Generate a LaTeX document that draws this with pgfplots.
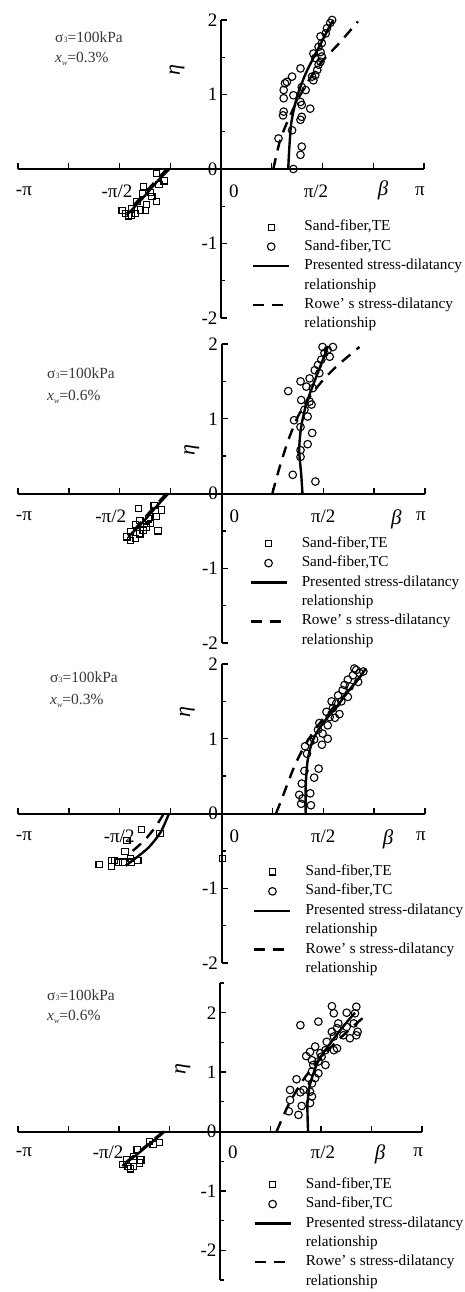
\documentclass[border=0pt]{standalone}
\usepackage{pgfplots}
\pgfplotsset{compat=1.18}
\usepackage{fontspec}
\setmainfont{Liberation Serif}
\newcommand\tlf{\fontsize{19}{19}\selectfont}
\newcommand\annf{\fontsize{15.5}{16}\selectfont}
\pgfplotsset{
  panel/.style={
    scale only axis, axis lines=middle, axis line style={-, line width=2pt, black},
    xmin=-3.14159, xmax=3.14159, enlargelimits=false, clip=false,
    xtick={-3.14159,-2.35619,-1.5708,-0.7854,0,0.7854,1.5708,2.35619,3.14159},
    xticklabels={}, xtick align=inside, ytick align=inside,
    hide obscured x ticks=false, hide obscured y ticks=false,
    major tick length=6pt, minor tick length=4pt,
    every tick/.style={black, line width=1.3pt},
    yticklabel style={font=\tlf},
    legend cell align=left,
    legend style={anchor=north west, draw=none, fill=none, inner sep=0pt, outer sep=0pt,
      font=\fontsize{15.2}{17}\selectfont, row sep=5.7pt,
      nodes={inner sep=0pt, text height=10.5pt, text depth=3.2pt}},
  },
  te/.style={only marks, mark=square, mark size=3.1pt, mark options={line width=1.1pt, black, fill=none}},
  tc/.style={only marks, mark=o, mark size=3.8pt, mark options={line width=1.1pt, black, fill=none}},
  pres/.style={black, line width=2.4pt, no marks, smooth},
  rowe/.style={black, line width=2.4pt, no marks, smooth, dash pattern=on 11pt off 8pt},
  teleg/.style={te, legend image code/.code={\draw[##1] plot coordinates {(18pt,0pt)}; \path (0pt,0pt) (50pt,0pt);}},
  tcleg/.style={tc, legend image code/.code={\draw[##1] plot coordinates {(18pt,0pt)}; \path (0pt,0pt) (50pt,0pt);}},
  presleg/.style={black, line width=2.4pt, legend image code/.code={\draw[##1] (0pt,0pt) -- (36pt,0pt); \path (50pt,0pt);}},
  roweleg/.style={black, line width=2.4pt, dash pattern=on 11pt off 8pt, legend image code/.code={\draw[##1] (0pt,0pt) -- (36pt,0pt); \path (50pt,0pt);}},
}
\newcommand\legendset{%
  \addlegendimage{teleg}\addlegendentry{Sand-fiber,TE}
  \addlegendimage{tcleg}\addlegendentry{Sand-fiber,TC}
  \addlegendimage{presleg}\addlegendentry{Presented stress-dilatancy}
  \addlegendimage{empty legend}\addlegendentry{relationship}
  \addlegendimage{roweleg}\addlegendentry{Rowe' s stress-dilatancy}
  \addlegendimage{empty legend}\addlegendentry{relationship}
}
\newcommand\xlabs[5]{%
  \node[font=\tlf] at (axis cs:-3.05,0) [yshift=#1] {-π};
  \node[font=\tlf] at (axis cs:#2,0) [yshift=#1] {-π/2};
  \node[font=\tlf] at (axis cs:0.2,0) [yshift=#1] {0};
  \node[font=\tlf] at (axis cs:#3,0) [yshift=#1] {π/2};
  \node[font=\tlf] at (axis cs:3.08,0) [yshift=#1] {π};
  \node[font=\fontsize{21}{21}\selectfont\itshape] at (axis cs:#4,#5) {β};
}
\begin{document}
\begin{tikzpicture}
\useasboundingbox (0,0) rectangle (465pt,-1292pt);
% ---------- panel 1
\node[anchor=base west, font=\annf, text=black!78, inner sep=0pt] at (55pt,-43pt) {σ{\fontsize{8}{8}\selectfont 3}=100kPa};
\node[anchor=base west, font=\annf, text=black!78, inner sep=0pt] at (55pt,-63pt) {\textit{x}{\fontsize{8}{8}\selectfont\raisebox{-3pt}{\textit{w}}}=0.3\%};
\begin{axis}[panel, at={(18pt,-318pt)}, anchor=south west, width=406pt, height=298pt,
  ymin=-2, ymax=2, ytick={-2,-1,0,1,2}, yticklabels={-2,-1,0,1,2},
  minor ytick={-1.5,-0.5,0.5,1.5},
  legend style={at={(axis cs:0.48,-0.69)}}]
\addplot[te, forget plot] coordinates {(-1.00,-0.06) (-0.88,-0.16) (-0.96,-0.21) (-1.20,-0.24) (-1.22,-0.33) (-1.09,-0.32) (-1.30,-0.44) (-1.00,-0.44) (-1.15,-0.48) (-1.25,-0.55) (-1.17,-0.56) (-1.53,-0.56) (-1.48,-0.60) (-1.43,-0.63) (-1.38,-0.62) (-1.33,-0.60) (-1.07,-0.37) (-1.38,-0.53)};
\addplot[tc, forget plot] coordinates {(1.12,0) (1.25,0.30) (1.23,0.19) (0.89,0.41) (0.96,0.72) (0.97,0.77) (1.10,0.52) (1.23,0.66) (1.25,0.70) (1.38,0.81) (1.25,0.86) (1.23,0.90) (1.12,0.99) (0.97,0.95) (0.97,1.06) (0.99,1.15) (1.02,1.17) (1.10,1.24) (1.23,1.35) (1.31,1.06) (1.25,1.10) (1.43,1.19) (1.46,1.26) (1.49,1.33) (1.51,1.40) (1.54,1.44) (1.56,1.51) (1.54,1.57) (1.51,1.64) (1.56,1.69) (1.54,1.78) (1.62,1.82) (1.64,1.89) (1.69,1.96) (1.72,2.0) (1.46,1.49) (1.43,1.55) (1.41,1.24)};
\addplot[pres, forget plot] coordinates {(1.04,0) (1.06,0.32) (1.09,0.63) (1.17,0.95) (1.30,1.26) (1.43,1.49) (1.56,1.71) (1.69,1.93) (1.74,2.0)};
\addplot[pres, forget plot] coordinates {(-0.80,0) (-1.0,-0.18) (-1.2,-0.38) (-1.46,-0.62)};
\addplot[rowe, forget plot] coordinates {(0.81,0) (0.91,0.37) (1.04,0.66) (1.2,0.95) (1.38,1.22) (1.56,1.44) (1.82,1.68) (2.12,1.98)};
\addplot[rowe, forget plot] coordinates {(-0.84,0) (-1.02,-0.17) (-1.22,-0.36) (-1.44,-0.58)};
\legendset
\xlabs{-22pt}{-1.61}{1.47}{2.51}{-0.28}
\node[font=\fontsize{22}{22}\selectfont\itshape, rotate=90] at (axis cs:-0.68,1.33) {η};
\end{axis}
% ---------- panel 2
\node[anchor=base west, font=\annf, text=black!78, inner sep=0pt] at (47pt,-378pt) {σ{\fontsize{8}{8}\selectfont 3}=100kPa};
\node[anchor=base west, font=\annf, text=black!78, inner sep=0pt] at (47pt,-400pt) {\textit{x}{\fontsize{8}{8}\selectfont\raisebox{-3pt}{\textit{w}}}=0.6\%};
\begin{axis}[panel, at={(18pt,-643pt)}, anchor=south west, width=407pt, height=299pt,
  ymin=-2, ymax=2, ytick={-2,-1,0,1,2}, yticklabels={-2,-1,0,1,2},
  minor ytick={-1.5,-0.5,0.5,1.5},
  legend style={at={(axis cs:0.43,-0.58)}}]
\addplot[te, forget plot] coordinates {(-1.28,-0.20) (-1.04,-0.16) (-0.93,-0.22) (-1.26,-0.36) (-1.13,-0.34) (-1.01,-0.31) (-1.33,-0.42) (-1.21,-0.49) (-0.98,-0.50) (-1.41,-0.51) (-1.46,-0.58) (-1.41,-0.63) (-1.33,-0.60) (-1.26,-0.54) (-1.10,-0.40) (-1.16,-0.45)};
\addplot[tc, forget plot] coordinates {(1.45,0.16) (1.10,0.25) (1.22,0.49) (1.22,0.58) (1.33,0.66) (1.40,0.81) (1.22,0.89) (1.12,0.98) (1.33,1.03) (1.36,1.23) (1.28,1.12) (1.23,1.25) (1.03,1.37) (1.22,1.50) (1.41,1.41) (1.36,1.54) (1.31,1.43) (1.44,1.65) (1.49,1.72) (1.54,1.79) (1.59,1.88) (1.64,1.92) (1.72,1.96) (1.67,1.83) (1.56,1.96) (1.51,1.61) (1.39,1.19)};
\addplot[pres, forget plot] coordinates {(1.25,0) (1.23,0.26) (1.20,0.58) (1.23,0.89) (1.31,1.20) (1.44,1.51) (1.56,1.78) (1.64,1.96)};
\addplot[pres, forget plot] coordinates {(-0.82,0) (-1.0,-0.17) (-1.2,-0.37) (-1.44,-0.58)};
\addplot[rowe, forget plot] coordinates {(0.785,0) (0.90,0.36) (1.03,0.71) (1.18,1.03) (1.36,1.29) (1.57,1.52) (1.80,1.72) (2.13,1.96)};
\addplot[rowe, forget plot] coordinates {(-0.85,0) (-1.03,-0.17) (-1.22,-0.36) (-1.42,-0.56)};
\legendset
\xlabs{-23pt}{-1.71}{1.57}{2.70}{-0.34}
\node[font=\fontsize{22}{22}\selectfont\itshape, rotate=90] at (axis cs:-0.46,0.58) {η};
\end{axis}
% ---------- panel 3
\node[anchor=base west, font=\annf, text=black!78, inner sep=0pt] at (50pt,-682pt) {σ{\fontsize{8}{8}\selectfont 3}=100kPa};
\node[anchor=base west, font=\annf, text=black!78, inner sep=0pt] at (50pt,-704pt) {\textit{x}{\fontsize{8}{8}\selectfont\raisebox{-3pt}{\textit{w}}}=0.3\%};
\begin{axis}[panel, at={(18pt,-963pt)}, anchor=south west, width=407pt, height=299pt,
  ymin=-2, ymax=2, ytick={-2,-1,0,1,2}, yticklabels={-2,-1,0,1,2},
  minor ytick={-1.5,-0.5,0.5,1.5},
  legend style={at={(axis cs:0.49,-0.69)}}]
\addplot[te, forget plot] coordinates {(-1.89,-0.68) (-1.70,-0.63) (-1.65,-0.63) (-1.70,-0.71) (-1.52,-0.65) (-1.39,-0.65) (-1.29,-0.63) (-1.49,-0.51) (-1.46,-0.36) (-1.23,-0.21) (-0.95,-0.27) (0.01,-0.60) (-1.40,-0.60) (-1.59,-0.65)};
\addplot[tc, forget plot] coordinates {(1.38,0.11) (1.23,0.13) (1.25,0.20) (1.20,0.25) (1.37,0.27) (1.24,0.40) (1.43,0.48) (1.28,0.57) (1.50,0.60) (1.32,0.80) (1.29,0.90) (1.37,0.96) (1.55,0.92) (1.64,1.00) (1.49,1.12) (1.51,1.21) (1.64,1.18) (1.67,1.29) (1.62,1.36) (1.72,1.41) (1.77,1.47) (1.85,1.50) (1.70,1.50) (1.80,1.58) (1.87,1.65) (1.95,1.56) (1.98,1.70) (1.95,1.79) (2.03,1.85) (2.08,1.92) (2.13,1.88) (2.19,1.90) (2.05,1.94) (2.11,1.76) (1.90,1.72) (1.56,1.07) (1.43,0.99) (1.75,1.28) (1.82,1.33)};
\addplot[pres, forget plot] coordinates {(1.30,0) (1.30,0.35) (1.33,0.71) (1.41,0.98) (1.56,1.20) (1.77,1.42) (1.97,1.65) (2.13,1.82) (2.23,1.94)};
\addplot[pres, forget plot] coordinates {(-0.81,0) (-0.94,-0.25) (-1.12,-0.45) (-1.30,-0.58) (-1.48,-0.70)};
\addplot[rowe, forget plot] coordinates {(0.84,0) (0.92,0.17) (1.12,0.62) (1.30,0.93) (1.51,1.2) (1.75,1.44) (1.98,1.66) (2.21,1.90)};
\addplot[rowe, forget plot] coordinates {(-0.89,0) (-1.02,-0.18) (-1.17,-0.34) (-1.33,-0.47) (-1.46,-0.56)};
\legendset
\xlabs{-23pt}{-1.58}{1.57}{2.57}{-0.34}
\node[font=\fontsize{22}{22}\selectfont\itshape, rotate=90] at (axis cs:-0.53,1.36) {η};
\end{axis}
% ---------- panel 4
\node[anchor=base west, font=\annf, text=black!78, inner sep=0pt] at (47pt,-1000pt) {σ{\fontsize{8}{8}\selectfont 3}=100kPa};
\node[anchor=base west, font=\annf, text=black!78, inner sep=0pt] at (47pt,-1020pt) {\textit{x}{\fontsize{8}{8}\selectfont\raisebox{-3pt}{\textit{w}}}=0.6\%};
\begin{axis}[panel, at={(18pt,-1280pt)}, anchor=south west, width=404pt, height=297pt,
  ymin=-2.5, ymax=2.5, ytick={-2,-1,0,1,2}, yticklabels={-2,-1,0,1,2},
  minor ytick={-2.5,-1.5,-0.5,0.5,1.5,2.5},
  legend style={at={(axis cs:0.52,-0.78)}}]
\addplot[te, forget plot] coordinates {(-0.94,-0.18) (-1.04,-0.22) (-1.10,-0.17) (-1.29,-0.30) (-1.35,-0.42) (-1.23,-0.48) (-1.25,-0.53) (-1.45,-0.48) (-1.51,-0.56) (-1.43,-0.59) (-1.39,-0.63) (-1.34,-0.59)};
\addplot[tc, forget plot] coordinates {(1.25,1.79) (1.53,1.85) (1.74,2.11) (1.77,1.99) (1.97,2.00) (2.12,2.10) (2.10,1.99) (2.08,1.82) (1.97,1.76) (1.84,1.82) (1.82,1.74) (1.74,1.68) (1.77,1.60) (1.92,1.62) (2.14,1.68) (2.12,1.62) (2.02,1.57) (1.66,1.51) (1.82,1.40) (1.77,1.37) (1.64,1.37) (1.56,1.32) (1.48,1.43) (1.40,1.34) (1.34,1.27) (1.43,1.20) (1.53,1.18) (1.58,1.26) (1.45,1.12) (1.43,1.01) (1.38,0.90) (1.48,0.90) (1.19,0.88) (1.09,0.70) (1.25,0.66) (1.30,0.70) (1.40,0.67) (1.43,0.59) (1.40,0.48) (1.27,0.43) (1.09,0.53) (1.07,0.34) (1.22,0.28) (1.43,0.81) (1.53,0.98) (1.64,1.12)};
\addplot[pres, forget plot] coordinates {(1.37,0) (1.36,0.46) (1.40,0.79) (1.53,1.19) (1.74,1.52) (1.94,1.80) (2.10,2.0)};
\addplot[pres, forget plot] coordinates {(-0.86,0) (-1.05,-0.17) (-1.25,-0.35) (-1.52,-0.58)};
\addplot[rowe, forget plot] coordinates {(0.88,0) (1.0,0.3) (1.1,0.52) (1.3,0.88) (1.55,1.22) (1.8,1.5) (2.05,1.75) (2.23,1.92)};
\addplot[rowe, forget plot] coordinates {(-0.88,0) (-1.06,-0.16) (-1.26,-0.34) (-1.50,-0.55)};
\legendset
\xlabs{-21pt}{-1.74}{1.60}{2.49}{-0.39}
\node[font=\fontsize{22}{22}\selectfont\itshape, rotate=90] at (axis cs:-0.58,1.05) {η};
\end{axis}
\end{tikzpicture}
\end{document}
